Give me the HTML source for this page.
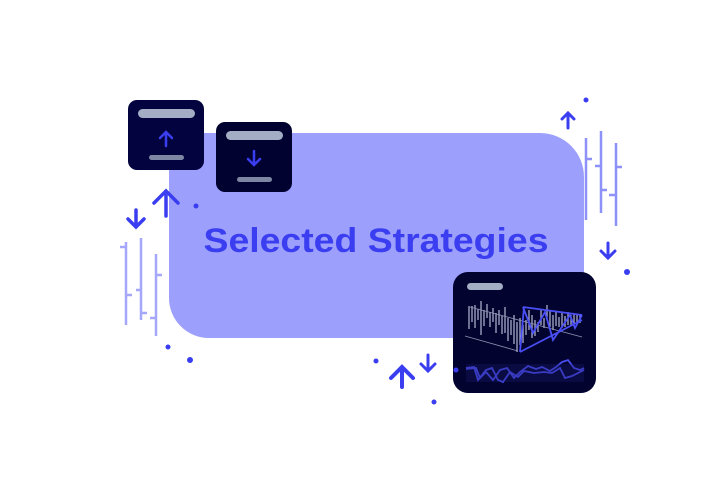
<!DOCTYPE html>
<html><head><style>html,body{margin:0;padding:0;background:#fff}svg{display:block}</style></head><body>
<svg width="720" height="480" viewBox="0 0 720 480" xmlns="http://www.w3.org/2000/svg">
<rect width="720" height="480" fill="#fff"/>
<path d="M169 133 H540 A44 44 0 0 1 584 177 V338 H209 A40 40 0 0 1 169 298 Z" fill="#9c9ffb"/>
<text x="376" y="252" text-anchor="middle" font-family="Liberation Sans, sans-serif" font-weight="bold" font-size="34" fill="#3a3ef0" textLength="345" lengthAdjust="spacingAndGlyphs">Selected Strategies</text>
<!-- box1 -->
<rect x="128" y="100" width="76" height="70" rx="9" fill="#03033f"/>
<rect x="138" y="109" width="57" height="9" rx="4.5" fill="#a3aec4"/>
<rect x="149" y="155" width="35" height="5" rx="2.5" fill="#7d87a3"/>
<g stroke="#3a3ef0" stroke-width="2.5" fill="none" stroke-linecap="round"><path d="M166 146 V132 M160 138 L166 132 L172 138"/></g>
<!-- box2 -->
<rect x="216" y="122" width="76" height="70" rx="9" fill="#020230"/>
<rect x="226" y="131" width="57" height="9" rx="4.5" fill="#a3aec4"/>
<rect x="237" y="177" width="35" height="5" rx="2.5" fill="#7d87a3"/>
<g stroke="#3a3ef0" stroke-width="2.5" fill="none" stroke-linecap="round"><path d="M254 151 V165 M248 159 L254 165 L260 159"/></g>
<!-- left arrows -->
<g stroke="#3a3ef0" stroke-width="3.5" fill="none" stroke-linecap="round">
<path d="M166 216 V192 M154 203 L166 191 L178 203"/>
<path d="M136 210 V226 M128 219 L136 227 L144 219"/>
<path d="M568 113 V128 M562 119 L568 113 L574 119" stroke-width="3"/>
<path d="M608 243 V257 M601 251 L608 258 L615 251" stroke-width="3"/>
<path d="M402 387 V367 M391 378 L402 367 L413 378" stroke-width="4"/>
<path d="M428 355 V370 M421 364 L428 371 L435 364" stroke-width="3"/>
</g>
<g fill="#3a3ef0">
<circle cx="196" cy="206" r="2.5"/><circle cx="168" cy="347" r="2.5"/><circle cx="190" cy="360" r="3"/>
<circle cx="586" cy="100" r="2.5"/><circle cx="627" cy="272" r="3"/>
<circle cx="376" cy="361" r="2.5"/><circle cx="434" cy="402" r="2.5"/>
</g>
<!-- left bars -->
<g stroke="#a4a7fa" stroke-width="2.5" fill="none">
<path d="M126 242 V325 M120 247 H126 M126 295 H132"/>
<path d="M141 238 V320 M136 290 H141 M141 313 H147"/>
<path d="M156 254 V336 M156 275 H162 M150 318 H156"/>
</g>
<g stroke="#8e92f8" stroke-width="2.5" fill="none">
<path d="M586 138 V220 M586 159 H592"/>
<path d="M601 131 V213 M595 166 H601 M601 190 H607"/>
<path d="M616 143 V226 M616 167 H622 M609 195 H616"/>
</g>
<!-- chart box -->
<rect x="453" y="272" width="143" height="121" rx="15" fill="#030330"/>
<rect x="467" y="283" width="36" height="7" rx="3.5" fill="#a3aec4"/>
<g stroke="#b4b8d4" stroke-width="1.2">
<path d="M469 306 V329 M472 306 V322 M475 305 V328 M478 309 V320 M481 301 V335 M484 310 V326 M487 304 V318 M490 312 V327 M493 308 V322 M496 313 V333 M499 310 V325 M502 316 V334 M505 307 V333 M508 318 V341 M511 320 V335 M514 315 V344 M517 322 V352 M520 318 V345 M523 325 V343"/>
<path d="M526 320 V335 M529 310 V330 M532 315 V338 M535 320 V336 M538 322 V332 M541 310 V325 M544 318 V328 M547 305 V320 M550 310 V327 M553 315 V330 M556 312 V326 M559 317 V327 M562 313 V328 M565 316 V327 M568 312 V325 M571 315 V326 M574 314 V324 M577 315 V322 M580 314 V323"/>
</g>
<g stroke="#8e92b0" stroke-width="0.8" fill="none"><path d="M470 307 L582 337 M465 336 L518 351"/></g>
<g stroke="#4a4ef5" stroke-width="1.8" fill="none">
<path d="M523 307 L582 315 M520 352 L582 320 M523 307 L533 333 L545 312 L553 340 L570 315 L575 328 L582 315 M520 352 L524 307"/>
<path d="M466 369 L476 368 L480 378 L486 372 L493 380 L500 370 L507 368 L514 378 L520 372 L528 366 L536 369 L542 367 L550 371 L556 367 L562 362 L568 360 L574 368 L580 370 L584 368"/>
<path d="M466 368 L474 367 L478 380 L486 370 L492 368 L498 380 L503 382 L510 372 L518 377 L524 371 L534 373 L544 372 L552 373 L560 368 L565 378 L572 376 L584 370"/>
</g>
<rect x="466" y="364" width="118" height="18" fill="#1a1d66" opacity="0.35"/>
<circle cx="456" cy="370" r="2.5" fill="#3a3ef0"/>
</svg>
</body></html>
